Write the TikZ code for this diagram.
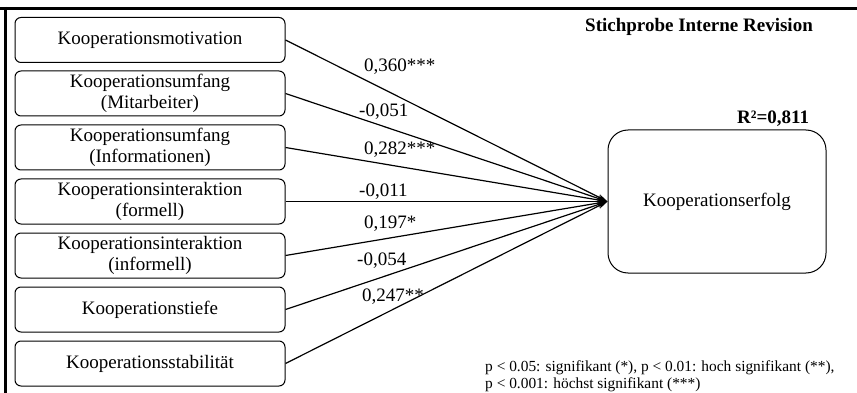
\documentclass[tikz,border=0pt]{standalone}
\usepackage{fontspec}
\setmainfont{Liberation Serif}
\usetikzlibrary{arrows.meta}
\begin{document}
\begin{tikzpicture}[x=1pt,y=-1pt,
  var/.style={draw,rounded corners=6pt,line width=1pt,minimum width=270pt,minimum height=45pt,inner sep=0pt,align=center,font=\fontsize{19}{20.5}\selectfont},
  coef/.style={anchor=base west,inner sep=0pt,font=\fontsize{19}{20}\selectfont},
  >={Stealth[length=10pt,width=6pt]}]
\useasboundingbox (0,0) rectangle (857,393);
% Rahmen
\draw[line width=3pt] (0,8.5)--(857,8.5);
\draw[line width=3pt] (5,7)--(5,393);
\path
(150,40) node[var] (mot) {Kooperationsmotivation}
(150,93.5) node[var] (mit) {Kooperationsumfang\\(Mitarbeiter)}
(150,147.5) node[var] (inf) {Kooperationsumfang\\(Informationen)}
(150,201.5) node[var] (form) {Kooperationsinteraktion\\(formell)}
(150,255.5) node[var] (inform) {Kooperationsinteraktion\\(informell)}
(150,309.5) node[var] (tief) {Kooperationstiefe}
(150,363.5) node[var] (stab) {Kooperationsstabilität}
(717,201.5) node[var,minimum width=218pt,minimum height=143pt,rounded corners=20pt] (erf) {Kooperationserfolg};
%\draw[->] (mot.east)--(erf.west) node[midway,above]{};
\draw[->,line width=1.2pt] (mot.east)--(erf.west);
\draw[->,line width=1.2pt] (mit.east)--(erf.west);
\draw[->,line width=1.2pt] (inf.east)--(erf.west);
\draw[->,line width=1.2pt] (form.east)--(erf.west);
\draw[->,line width=1.2pt] (inform.east)--(erf.west);
\draw[->,line width=1.2pt] (tief.east)--(erf.west);
\draw[->,line width=1.2pt] (stab.east)--(erf.west);
\path
(364,71.5) node[coef] (c1) {0,360***}
(359,116.5) node[coef] (c2) {-0,051}
(364,155) node[coef] (c3) {0,282***}
(359,196.5) node[coef] (c4) {-0,011}
(364,228) node[coef] (c5) {0,197*}
(357,265) node[coef] (c6) {-0,054}
(362,301.5) node[coef] (c7) {0,247**};
\path
(585,32) node[coef,font=\fontsize{19}{20}\selectfont\bfseries] (titel) {Stichprobe Interne Revision}
(737,124) node[coef,font=\fontsize{19}{20}\selectfont\bfseries] (rq) {R²=0,811}
(485,371.5) node[coef,font=\fontsize{15.4}{16}\selectfont] (leg1) {p < 0.05: signifikant (*), p < 0.01: hoch signifikant (**),}
(485,388) node[coef,font=\fontsize{15.4}{16}\selectfont] (leg2) {p < 0.001: höchst signifikant (***)};
\end{tikzpicture}
\end{document}
